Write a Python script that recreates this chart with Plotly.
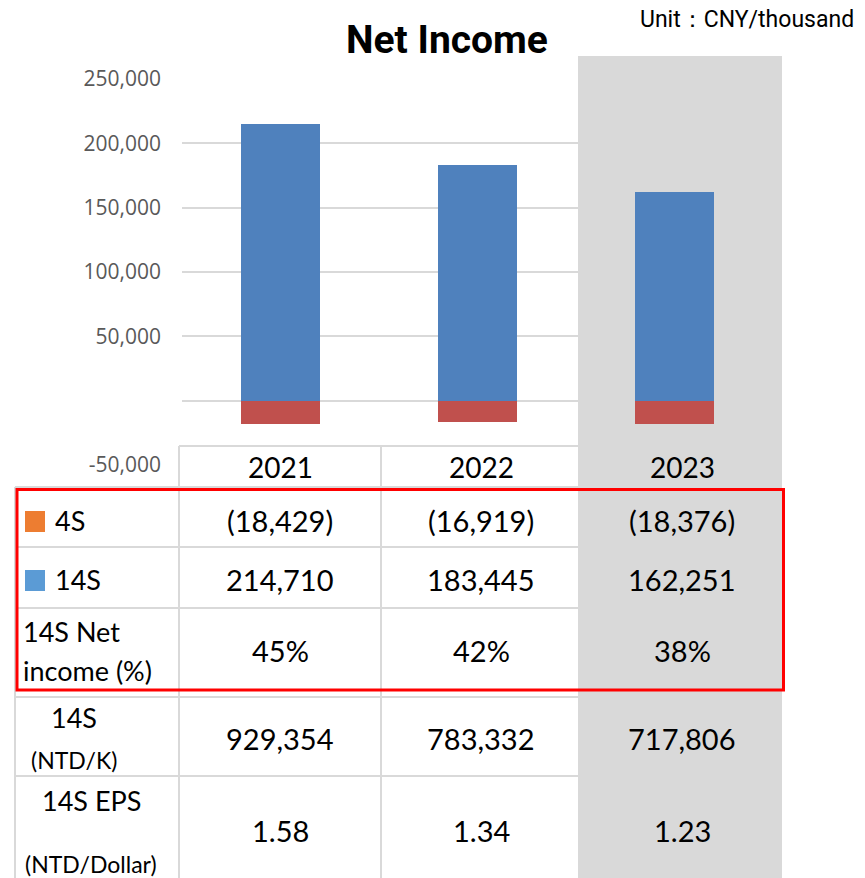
import plotly.graph_objects as go

# ---- data -------------------------------------------------------------
years = ["2021", "2022", "2023"]
net_4s = [-18429, -16919, -18376]          # CNY thousand
net_14s = [214710, 183445, 162251]         # CNY thousand
net_pct_14s = [45, 42, 38]                 # %
net_14s_ntd = [929354, 783332, 717806]     # NTD thousand
eps_14s = [1.58, 1.34, 1.23]               # NTD per share
y_ticks = [-50000, 0, 50000, 100000, 150000, 200000, 250000]
y_tick_text = ["-50,000", "", "50,000", "100,000", "150,000", "200,000", "250,000"]

# ---- canvas helpers (pixel -> paper) ------------------------------------
W, H = 865, 878


def px(x):
    return x / W


def py(y):
    return 1 - y / H


def fmt_thousands(v):
    s = f"{abs(v):,}"
    return f"({s})" if v < 0 else s


BLUE_BAR = "#4f81bd"
RED_BAR = "#c0504d"
GRID = "#d9d9d9"
HIGHLIGHT = "#d9d9d9"
TXT_FONT = "Lato"

fig = go.Figure()
fig.add_trace(go.Bar(x=years, y=net_14s, marker=dict(color=BLUE_BAR, line=dict(width=0)),
                     width=0.4, name="14S"))
fig.add_trace(go.Bar(x=years, y=net_4s, marker=dict(color=RED_BAR, line=dict(width=0)),
                     width=0.4, name="4S"))

shapes = []
# blank area under the plot where the table sits
shapes.append(dict(type="rect", xref="paper", yref="paper", layer="between",
                   x0=px(170), x1=px(578), y0=py(878), y1=py(447),
                   fillcolor="white", line=dict(width=0)))
# highlighted latest-year column
shapes.append(dict(type="rect", xref="paper", yref="paper", layer="between",
                   x0=px(578), x1=px(782), y0=py(878), y1=py(56),
                   fillcolor=HIGHLIGHT, line=dict(width=0)))


def hline(y, x0, x1):
    shapes.append(dict(type="line", xref="paper", yref="paper", layer="above",
                       x0=px(x0), x1=px(x1), y0=py(y), y1=py(y),
                       line=dict(color=GRID, width=2)))


def vline(x, y0, y1):
    shapes.append(dict(type="line", xref="paper", yref="paper", layer="above",
                       x0=px(x), x1=px(x), y0=py(y0), y1=py(y1),
                       line=dict(color=GRID, width=2)))


row_edges = [446, 487, 547, 608, 690, 697, 776, 878]

hline(446, 179, 580)
for y in row_edges[1:-1]:
    hline(y, 15, 580)
vline(15, 487, 878)
vline(179, 446, 878)
vline(381, 446, 878)

# red frame around the CNY rows
shapes.append(dict(type="rect", xref="paper", yref="paper", layer="above",
                   x0=px(17), x1=px(783.5), y0=py(690), y1=py(489.5),
                   line=dict(color="#ff0000", width=3), fillcolor="rgba(0,0,0,0)"))
# legend keys
shapes.append(dict(type="rect", xref="paper", yref="paper", layer="above",
                   x0=px(25), x1=px(45), y0=py(532), y1=py(511),
                   fillcolor="#ed7d31", line=dict(width=0)))
shapes.append(dict(type="rect", xref="paper", yref="paper", layer="above",
                   x0=px(25), x1=px(45), y0=py(591), y1=py(570),
                   fillcolor="#5b9bd5", line=dict(width=0)))

annotations = []


def text(x, y, s, size, anchor="center", color="black", family=TXT_FONT, bold=False):
    annotations.append(dict(xref="paper", yref="paper", x=px(x), y=py(y),
                            text=f"<b>{s}</b>" if bold else s, showarrow=False,
                            xanchor=anchor, yanchor="middle",
                            font=dict(size=size, color=color, family=family)))


text(447, 40, "Net Income", 39, family="Roboto", bold=True)
text(856, 19, "Unit：CNY/thousand", 23, anchor="right", family="Roboto")

col_centers = [280, 481, 682]
VAL = 29
for i, yr in enumerate(years):
    cx = col_centers[i]
    text(cx, 467, yr, 28)
    text(cx, 520, fmt_thousands(net_4s[i]), VAL)
    text(cx, 579, fmt_thousands(net_14s[i]), VAL)
    text(cx, 650, f"{net_pct_14s[i]}%", VAL)
    text(cx, 738, fmt_thousands(net_14s_ntd[i]), VAL)
    text(cx, 830, f"{eps_14s[i]:.2f}", VAL)

LAB = 27
text(53, 520, "4S", LAB, anchor="left")
text(53, 579, "14S", LAB, anchor="left")
text(21, 631, "14S Net", LAB, anchor="left")
text(21, 670, "income (%)", LAB, anchor="left")
text(74, 717, "14S", LAB)
text(74, 760, "(NTD/K)", 23)
text(91, 800, "14S EPS", LAB)
text(91, 864, "(NTD/Dollar)", 23)

fig.update_layout(
    width=W, height=H,
    margin=dict(l=0, r=0, t=0, b=0, pad=0, autoexpand=False),
    paper_bgcolor="white", plot_bgcolor="rgba(0,0,0,0)",
    barmode="relative", bargap=0,
    showlegend=False,
    shapes=shapes, annotations=annotations,
    xaxis=dict(domain=[px(182), px(773)], type="category", range=[-0.5, 2.5],
               showticklabels=False, showgrid=False, showline=False, zeroline=False,
               automargin=False, fixedrange=True),
    yaxis=dict(domain=[py(464.8), py(79)], range=[-50000, 250000],
               tickvals=y_ticks, ticktext=y_tick_text, ticks="",
               ticklabelstandoff=20, automargin=False,
               tickfont=dict(size=21, color="#595959", family="Open Sans"),
               showgrid=True, gridcolor=GRID, gridwidth=2,
               zeroline=True, zerolinecolor=GRID, zerolinewidth=2,
               showline=False, fixedrange=True),
)

fig.write_html("out.html")
